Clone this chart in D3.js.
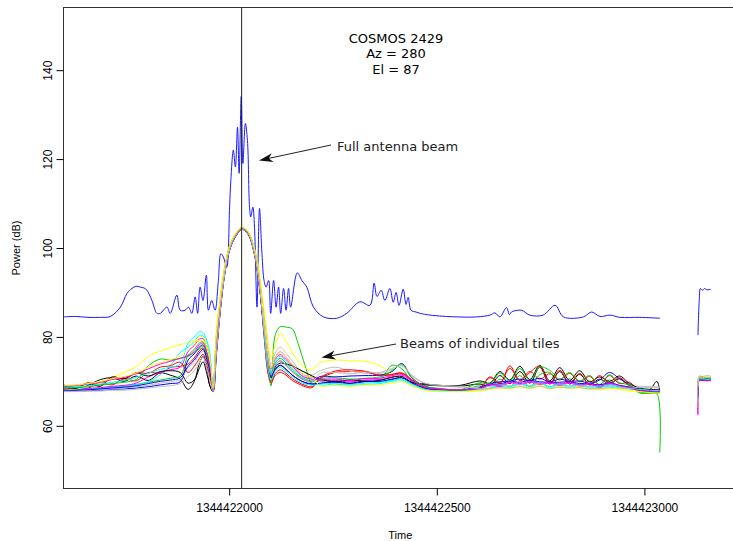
<!DOCTYPE html>
<html>
<head>
<meta charset="utf-8">
<script src="https://cdn.jsdelivr.net/npm/d3@7"></script>
<style>
  body { margin: 0; background: #fff; }
  svg { display: block; }
</style>
</head>
<body>
<div id="chart"></div>
<script>
// time is stored as seconds after t0
const t0 = 1344422000;
const xTicks = [1344422000, 1344422500, 1344423000];
const yTicks = [60, 80, 100, 120, 140];
const titleLines = ["COSMOS 2429", "Az = 280", "El = 87"];

// full antenna beam (blue)
const beamTime = [-398, -370, -340, -310, -286, -262, -246, -234, -224, -214, -205, -198, -186, -174, -166, -150, -142, -126, -118, -106,
  -98, -90, -82, -76, -70, -63, -55, -50, -42, -34, -26, -20, -14, -6, 1, 4, 10, 15, 20, 24,
  29, 33, 39, 44, 49, 52, 57, 61, 67, 73, 79, 84, 89, 95, 100, 107, 113, 119, 124, 131,
  137, 143, 148, 164, 175, 187, 203, 227, 259, 283, 315, 339, 349, 356, 366, 375, 387, 395, 402, 409,
  419, 426, 431, 438, 450, 460, 484, 548, 596, 628, 640, 652, 668, 675, 680, 704, 724, 756, 785, 805,
  853, 873, 893, 917, 941, 989, 1037];
const beamPower = [84.5, 84.6, 84.4, 84.4, 84.6, 86.7, 89.8, 90.9, 91.4, 91.2, 91.0, 90.5, 88.2, 85.3, 85.3, 86.7, 85.3, 89.4, 86.0, 86.0,
  86.7, 85.3, 89.0, 85.3, 91.2, 88.2, 93.9, 86.0, 88.2, 86.0, 92.7, 98.7, 98.0, 95.7, 109.2, 115.2, 122.0, 118.2, 127.2, 116.8,
  134.1, 119.0, 128.0, 124.2, 109.2, 107.0, 109.2, 104.7, 86.7, 108.9, 98.7, 92.7, 91.2, 92.7, 85.3, 92.7, 86.7, 91.2, 85.3, 90.9,
  86.0, 90.9, 86.7, 94.4, 92.7, 91.2, 86.7, 84.5, 84.2, 85.3, 87.9, 87.1, 92.1, 89.1, 90.5, 88.2, 90.9, 87.8, 90.0, 87.1,
  90.7, 87.3, 88.9, 86.0, 85.6, 85.3, 84.9, 84.5, 84.5, 84.9, 85.4, 84.5, 86.6, 85.0, 85.6, 86.0, 84.9, 84.9, 87.1, 84.5,
  84.5, 85.6, 84.6, 84.9, 84.4, 84.4, 84.2];
const beamTimeEnd = [1129, 1132, 1135, 1140, 1145, 1150, 1160];
const beamPowerEnd = [80.4, 88.0, 90.9, 90.5, 90.9, 90.6, 90.7];

// beams of individual tiles
const tileTime = [-398, -370, -340, -310, -282, -253, -224, -195, -166, -142,
  -118, -99, -84, -72, -63, -53, -46, -39, -31, -22,
  -10, 2, 17, 31, 46, 60, 72, 84, 94, 101,
  111, 123, 137, 152, 166, 183, 200, 219, 255, 291,
  327, 363, 392, 416, 440, 472, 508, 556, 604, 628,
  652, 676, 700, 724, 748, 772, 796, 820, 844, 868,
  892, 916, 940, 964, 988, 1012, 1030, 1037];
const tilePower = [
  [68.7, 68.2, 69.1, 70.4, 70.8, 70.0, 71.2, 70.2, 71.9, 71.4, 70.5, 68.2, 70.0, 74.0, 75.6, 72.5, 68.8, 67.8, 76.4, 85.7,
   94.8, 99.9, 102.9, 104.3, 103.1, 99.1, 92.2, 81.4, 73.0, 70.8, 72.7, 73.6, 72.7, 71.4, 70.5, 69.7, 69.4, 69.5, 70.0, 69.6,
   70.1, 69.9, 70.5, 70.8, 69.6, 69.2, 69.0, 68.9, 69.4, 69.0, 71.3, 69.5, 72.2, 69.6, 73.2, 69.4, 72.2, 69.4, 71.6, 69.2,
   70.5, 69.4, 70.6, 69.0, 68.3, 68.1, 70.0, 67.8],
  [68.3, 69.0, 68.5, 69.8, 69.2, 70.6, 70.1, 72.0, 71.8, 73.1, 73.4, 73.9, 75.3, 76.9, 77.5, 75.0, 72.3, 68.0, 78.0, 86.8,
   95.3, 100.3, 103.1, 104.4, 103.3, 99.5, 93.0, 80.6, 72.0, 70.0, 71.8, 72.6, 71.8, 70.6, 69.8, 69.1, 68.8, 70.6, 72.0, 72.2,
   72.3, 71.4, 71.6, 71.9, 70.4, 68.6, 68.2, 68.0, 68.6, 71.0, 69.7, 72.9, 70.3, 72.2, 70.5, 71.7, 70.3, 71.8, 69.9, 71.1,
   69.2, 71.3, 69.5, 69.8, 67.9, 67.8, 67.7, 67.7],
  [68.1, 68.1, 68.3, 68.4, 68.7, 68.9, 69.3, 69.8, 70.3, 70.7, 71.2, 75.8, 77.2, 78.6, 78.9, 76.6, 73.8, 69.0, 80.4, 88.4,
   96.0, 100.7, 103.4, 104.6, 103.6, 100.1, 94.2, 83.0, 74.0, 69.0, 80.5, 82.3, 82.2, 81.8, 78.5, 73.5, 69.5, 70.2, 70.0, 70.3,
   70.1, 70.4, 73.6, 72.8, 70.0, 68.4, 68.0, 67.8, 69.0, 68.3, 70.5, 68.7, 71.3, 68.7, 71.5, 72.0, 68.8, 70.6, 68.7, 70.1,
   68.3, 70.3, 68.4, 68.9, 67.4, 67.3, 67.2, 54.0],
  [67.8, 67.8, 67.9, 68.0, 68.2, 68.3, 68.5, 68.8, 69.2, 69.5, 69.9, 74.8, 76.2, 77.7, 78.2, 75.8, 73.0, 67.9, 77.2, 86.2,
   95.0, 100.1, 103.0, 104.3, 103.2, 99.3, 92.6, 82.2, 74.0, 71.5, 73.6, 74.6, 73.6, 72.2, 71.1, 70.2, 69.9, 71.1, 71.0, 71.2,
   71.3, 71.4, 72.2, 74.0, 70.8, 68.9, 68.3, 68.1, 68.7, 69.5, 69.9, 70.1, 70.5, 70.2, 70.7, 69.9, 70.5, 70.0, 70.1, 69.6,
   70.3, 72.0, 70.6, 69.2, 67.8, 67.6, 67.5, 67.5],
  [68.0, 68.2, 68.2, 68.5, 68.6, 69.0, 69.2, 69.9, 71.5, 73.5, 76.5, 77.7, 79.0, 80.3, 80.3, 78.2, 75.2, 68.3, 78.8, 87.3,
   95.5, 100.4, 103.2, 104.5, 103.4, 99.7, 93.4, 83.0, 75.0, 72.3, 74.5, 75.7, 74.5, 73.0, 71.8, 70.8, 70.4, 69.2, 69.4, 69.1,
   69.3, 69.5, 70.0, 70.3, 69.2, 68.1, 67.8, 67.7, 68.1, 68.2, 69.0, 68.5, 69.4, 68.6, 69.6, 68.5, 69.3, 68.6, 69.1, 68.4,
   68.6, 68.9, 68.7, 68.2, 68.1, 67.9, 67.8, 67.8],
  [68.2, 68.3, 68.4, 68.6, 68.9, 69.1, 69.6, 71.0, 72.0, 72.6, 73.2, 76.7, 78.1, 79.5, 79.6, 77.4, 74.5, 68.2, 79.6, 87.9,
   95.8, 100.6, 103.3, 104.6, 103.5, 99.9, 93.8, 83.8, 76.0, 73.0, 75.4, 76.7, 75.4, 73.8, 72.4, 71.3, 70.9, 70.1, 70.2, 69.9,
   70.3, 70.4, 71.0, 71.4, 70.0, 68.6, 68.2, 68.0, 68.3, 69.1, 68.8, 69.7, 69.2, 69.8, 69.3, 69.6, 69.1, 69.6, 68.9, 69.3,
   68.7, 69.4, 68.9, 68.5, 67.9, 67.8, 67.7, 67.7],
  [68.0, 68.3, 68.8, 69.6, 70.8, 72.0, 73.3, 75.6, 76.8, 77.6, 78.3, 78.6, 79.2, 79.0, 79.3, 77.0, 74.1, 68.4, 81.2, 89.0,
   96.3, 100.9, 103.5, 104.7, 103.7, 100.3, 94.6, 86.2, 79.0, 75.3, 78.1, 80.8, 79.0, 76.5, 74.5, 73.0, 72.6, 74.2, 74.8, 74.6,
   74.5, 73.5, 71.5, 71.0, 69.5, 68.3, 67.9, 67.7, 67.9, 68.2, 68.5, 68.3, 68.8, 68.4, 68.9, 68.3, 68.7, 68.4, 68.6, 68.2,
   68.1, 68.4, 68.2, 67.9, 67.8, 67.6, 67.5, 67.5],
  [67.9, 67.9, 68.0, 68.1, 68.3, 68.5, 68.8, 69.1, 69.6, 69.9, 70.4, 73.0, 74.3, 76.0, 76.8, 74.2, 71.5, 67.8, 77.6, 86.5,
   95.1, 100.2, 103.1, 104.4, 103.3, 99.4, 92.8, 84.6, 77.0, 73.8, 76.3, 77.7, 76.3, 74.6, 73.0, 71.9, 71.5, 72.4, 73.2, 72.3,
   71.8, 71.8, 72.7, 73.6, 71.2, 69.5, 69.0, 68.7, 68.6, 68.9, 69.1, 69.0, 69.4, 69.0, 69.5, 68.9, 69.3, 69.0, 69.1, 68.8,
   68.9, 69.1, 69.0, 68.9, 68.9, 68.8, 68.8, 68.8],
  [69.0, 68.4, 69.5, 68.9, 71.0, 70.6, 71.9, 71.2, 72.2, 72.4, 72.0, 69.6, 70.3, 72.9, 74.4, 71.4, 68.9, 67.7, 75.6, 85.1,
   94.5, 99.8, 102.8, 104.2, 103.0, 98.9, 91.8, 81.8, 73.5, 71.1, 73.2, 74.1, 73.9, 73.5, 72.8, 72.0, 71.2, 70.5, 69.9, 70.3,
   70.0, 70.2, 70.9, 71.1, 69.8, 69.4, 69.1, 69.1, 70.1, 69.6, 72.2, 70.3, 73.4, 70.4, 73.6, 70.1, 73.1, 70.2, 72.4, 69.9,
   71.0, 70.0, 71.2, 69.5, 68.5, 68.2, 68.2, 68.2],
  [69.2, 68.6, 69.7, 69.2, 70.7, 70.2, 72.0, 71.8, 73.2, 73.5, 74.3, 72.0, 73.4, 75.1, 76.1, 73.4, 70.8, 67.7, 76.8, 85.9,
   94.9, 100.0, 103.0, 104.3, 103.2, 99.2, 92.4, 80.2, 71.5, 69.6, 71.4, 72.0, 71.4, 70.2, 69.5, 68.8, 68.6, 70.8, 72.3, 72.6,
   72.2, 71.3, 71.5, 71.8, 70.3, 68.5, 68.1, 67.9, 68.5, 70.8, 69.5, 73.5, 70.1, 72.0, 73.4, 69.5, 72.5, 69.6, 71.8, 69.3,
   71.3, 69.6, 70.8, 69.1, 67.9, 67.7, 67.6, 67.6],
  [68.5, 68.6, 68.8, 69.1, 69.5, 69.8, 70.4, 73.5, 75.0, 74.8, 75.2, 75.6, 76.5, 77.3, 77.9, 75.4, 72.6, 68.0, 78.4, 87.0,
   95.4, 100.3, 103.2, 104.4, 103.4, 99.6, 93.2, 82.6, 74.5, 71.9, 74.1, 75.2, 74.1, 72.6, 71.4, 70.5, 70.1, 70.6, 70.8, 70.5,
   70.7, 71.0, 72.4, 73.9, 70.8, 68.9, 68.4, 68.1, 69.7, 69.5, 71.9, 70.1, 72.9, 70.2, 73.2, 72.5, 70.5, 72.0, 70.1, 71.3,
   69.3, 71.5, 69.7, 69.2, 67.6, 67.5, 67.4, 67.4],
  [68.0, 68.0, 68.1, 68.3, 68.5, 68.7, 69.0, 69.5, 70.0, 70.3, 70.8, 73.4, 74.8, 76.4, 77.2, 74.6, 71.9, 67.8, 76.4, 85.7,
   94.8, 99.9, 102.9, 104.2, 103.1, 99.1, 92.2, 81.4, 73.0, 70.8, 72.7, 73.6, 72.7, 71.4, 70.5, 69.7, 69.4, 69.6, 69.8, 69.5,
   69.9, 70.0, 70.4, 70.8, 69.6, 68.4, 68.0, 67.9, 68.5, 69.3, 69.4, 70.0, 69.8, 70.2, 69.9, 69.8, 69.8, 69.9, 69.5, 69.5,
   69.2, 69.7, 69.1, 68.7, 68.0, 67.8, 67.8, 67.8],
  [68.7, 68.8, 69.0, 69.4, 69.8, 70.2, 70.9, 71.8, 72.7, 73.2, 73.9, 78.6, 80.0, 81.2, 81.0, 79.0, 76.0, 68.5, 79.2, 87.6,
   95.6, 100.5, 103.3, 104.5, 103.5, 99.8, 93.6, 81.0, 72.5, 70.4, 72.3, 73.1, 72.3, 71.0, 70.1, 69.4, 69.1, 69.4, 69.5, 69.3,
   69.6, 69.8, 70.2, 70.5, 69.4, 68.2, 67.9, 67.8, 68.2, 68.5, 69.2, 68.8, 69.6, 68.9, 69.8, 68.8, 69.5, 68.9, 69.3, 68.7,
   68.8, 69.2, 68.9, 68.4, 68.2, 68.0, 67.9, 67.9],
  [69.0, 69.1, 69.4, 69.8, 70.4, 70.9, 71.7, 72.8, 73.9, 74.5, 75.2, 75.8, 76.7, 78.2, 78.6, 76.2, 73.4, 68.2, 78.8, 87.3,
   95.5, 100.4, 103.2, 104.5, 103.4, 99.7, 93.4, 83.4, 75.6, 72.8, 75.0, 76.0, 74.9, 73.5, 72.0, 70.9, 70.5, 70.4, 70.5, 70.2,
   70.6, 70.7, 71.3, 71.6, 70.2, 68.7, 68.3, 68.1, 68.4, 69.3, 69.1, 69.9, 69.5, 70.0, 69.6, 69.7, 69.4, 69.8, 69.2, 69.5,
   68.9, 69.6, 69.0, 68.6, 67.9, 67.8, 67.7, 67.7],
  [69.1, 69.2, 69.5, 70.0, 70.6, 71.1, 71.9, 73.2, 74.2, 74.9, 75.6, 77.2, 78.6, 79.9, 80.0, 77.8, 74.9, 68.4, 80.0, 88.1,
   95.9, 100.6, 103.4, 104.6, 103.6, 100.0, 94.0, 83.8, 76.0, 73.0, 75.4, 76.7, 75.4, 73.8, 72.4, 71.3, 70.9, 69.0, 69.1, 68.9,
   69.2, 69.2, 69.7, 69.9, 69.0, 68.0, 67.8, 67.7, 68.0, 68.3, 68.6, 68.5, 68.9, 68.6, 69.1, 68.4, 68.9, 68.5, 68.8, 68.3,
   68.3, 68.5, 68.4, 68.0, 67.7, 67.5, 67.4, 67.4],
  [67.7, 67.7, 67.8, 67.8, 68.0, 68.0, 68.2, 68.5, 68.8, 69.0, 69.5, 71.1, 72.4, 74.2, 75.4, 72.6, 70.0, 67.7, 76.0, 85.4,
   94.6, 99.9, 102.9, 104.2, 103.1, 99.0, 92.0, 82.2, 74.0, 71.5, 73.6, 74.6, 73.6, 72.2, 71.1, 70.2, 69.9, 71.8, 72.0, 71.7,
   72.1, 72.0, 72.9, 73.4, 71.4, 69.6, 69.1, 68.9, 68.3, 68.4, 68.6, 68.5, 68.8, 68.5, 68.9, 68.4, 68.7, 68.5, 68.6, 68.3,
   68.4, 68.6, 68.5, 68.4, 68.7, 68.6, 68.6, 68.6]
];
const tileTimeEnd = [1129, 1132, 1140, 1150, 1160];
const tilePowerEnd = [
  [67.0, 70.5, 70.6, 70.4, 70.5], [64.5, 70.3, 70.4, 70.2, 70.3], [70.0, 70.9, 71.0, 70.8, 70.9], [66.0, 70.4, 70.3, 70.5, 70.4],
  [68.0, 70.7, 70.6, 70.8, 70.7], [62.6, 70.2, 70.3, 70.1, 70.2], [69.5, 71.0, 71.1, 70.9, 71.0], [65.0, 71.2, 71.1, 71.3, 71.2],
  [68.5, 70.8, 70.9, 70.7, 70.8], [63.8, 70.4, 70.5, 70.3, 70.4], [67.5, 70.6, 70.5, 70.7, 70.6], [66.5, 70.3, 70.2, 70.4, 70.3],
  [69.0, 70.5, 70.6, 70.4, 70.5], [62.4, 70.2, 70.3, 70.2, 70.2], [68.8, 70.9, 70.8, 71.0, 70.9], [64.0, 71.0, 71.1, 70.9, 71.0]
];
// R default palette, cycled over the tiles
const tileColors = ["#000000", "#FF0000", "#00CD00", "#0000FF", "#00FFFF", "#FF00FF", "#FFFF00", "#BEBEBE"];
const markTime = 30;

const width = 733, height = 541;
const plot = { left: 63.5, top: 7.5, right: 737, bottom: 488.5 };

const x = d3.scaleLinear()
    .domain([1344421601, 1344423223])
    .range([plot.left, plot.right]);
const y = d3.scaleLinear()
    .domain([45.9, 154.1])
    .range([plot.bottom, plot.top]);

// smooth lobes without overshooting the sharp drops
const line = d3.line()
    .curve(d3.curveCatmullRom.alpha(0.5))
    .x(d => x(t0 + d[0]))
    .y(d => y(d[1]));

const svg = d3.select("#chart").append("svg")
    .attr("width", width)
    .attr("height", height)
    .attr("viewBox", [0, 0, width, height]);

svg.append("defs").append("clipPath").attr("id", "clip")
  .append("rect")
    .attr("x", plot.left).attr("y", plot.top)
    .attr("width", plot.right - plot.left).attr("height", plot.bottom - plot.top);

const lines = svg.append("g")
    .attr("clip-path", "url(#clip)")
    .attr("fill", "none")
    .attr("stroke-linejoin", "round");

// full beam first, tiles drawn over it
lines.append("path")
    .attr("stroke", "#1a1aff")
    .attr("stroke-width", 1)
    .attr("d", line(beamTime.map((t, i) => [t, beamPower[i]])));
lines.append("path")
    .attr("stroke", "#1a1aff")
    .attr("stroke-width", 1)
    .attr("d", line(beamTimeEnd.map((t, i) => [t, beamPowerEnd[i]])));

lines.selectAll(".tile")
  .data(tilePower)
  .join("path")
    .attr("class", "tile")
    .attr("stroke", (d, i) => tileColors[i % tileColors.length])
    .attr("stroke-width", 1)
    .attr("d", d => line(d.map((v, j) => [tileTime[j], v])));

lines.selectAll(".tileEnd")
  .data(tilePowerEnd)
  .join("path")
    .attr("class", "tileEnd")
    .attr("stroke", (d, i) => tileColors[i % tileColors.length])
    .attr("stroke-width", 1)
    .attr("d", d => line(d.map((v, j) => [tileTimeEnd[j], v])));

// vertical marker
svg.append("line")
    .attr("x1", x(t0 + markTime)).attr("x2", x(t0 + markTime))
    .attr("y1", plot.top).attr("y2", plot.bottom)
    .attr("stroke", "#222")
    .attr("stroke-width", 1);

// frame
svg.append("rect")
    .attr("x", plot.left).attr("y", plot.top)
    .attr("width", plot.right - plot.left).attr("height", plot.bottom - plot.top)
    .attr("fill", "none")
    .attr("stroke", "#333");

// axes
svg.append("g")
    .attr("transform", `translate(0,${plot.bottom})`)
    .call(d3.axisBottom(x).tickValues(xTicks).tickFormat(d3.format("d")).tickSize(7).tickPadding(8))
    .call(g => g.select(".domain").remove())
    .call(g => g.selectAll("text")
        .attr("font-family", "'Liberation Sans', Arial, sans-serif")
        .attr("font-size", 12)
        .attr("fill", "#000"));

svg.append("g")
    .attr("transform", `translate(${plot.left},0)`)
    .call(d3.axisLeft(y).tickValues(yTicks).tickSize(7))
    .call(g => g.select(".domain").remove())
    .call(g => g.selectAll("text")
        .attr("x", null)
        .attr("dy", null)
        .attr("transform", "translate(-12,0) rotate(-90)")
        .attr("text-anchor", "middle")
        .attr("font-family", "'Liberation Sans', Arial, sans-serif")
        .attr("font-size", 12)
        .attr("fill", "#000"));

svg.append("text")
    .attr("x", (plot.left + plot.right) / 2)
    .attr("y", 539)
    .attr("text-anchor", "middle")
    .attr("font-family", "'Liberation Sans', Arial, sans-serif")
    .attr("font-size", 11)
    .text("Time");

svg.append("text")
    .attr("transform", `translate(20,${(plot.top + plot.bottom) / 2}) rotate(-90)`)
    .attr("text-anchor", "middle")
    .attr("font-family", "'Liberation Sans', Arial, sans-serif")
    .attr("font-size", 11)
    .text("Power (dB)");

// title block
svg.append("g")
    .attr("font-family", "'DejaVu Sans', sans-serif")
    .attr("font-size", 13)
    .attr("text-anchor", "middle")
  .selectAll("text")
  .data(titleLines)
  .join("text")
    .attr("x", 396)
    .attr("y", (d, i) => 42.5 + i * 15.7)
    .text(d => d);

// annotations with arrows
const notes = [
  { text: "Full antenna beam", tx: 337, ty: 151, x1: 331, y1: 145, x2: 259, y2: 160.5 },
  { text: "Beams of individual tiles", tx: 400, ty: 348, x1: 396, y1: 344, x2: 321.5, y2: 357.5 }
];

function arrowHead(n) {
  const a = Math.atan2(n.y2 - n.y1, n.x2 - n.x1);
  const ux = Math.cos(a), uy = Math.sin(a);
  const L = 14, w = 4.5, notch = 10;
  const bx = n.x2 - L * ux, by = n.y2 - L * uy;
  return `M${n.x2},${n.y2}L${bx - w * uy},${by + w * ux}L${n.x2 - notch * ux},${n.y2 - notch * uy}L${bx + w * uy},${by - w * ux}Z`;
}

const note = svg.append("g").selectAll("g").data(notes).join("g");
note.append("line")
    .attr("x1", d => d.x1).attr("y1", d => d.y1)
    .attr("x2", d => d.x2 - 9 * Math.cos(Math.atan2(d.y2 - d.y1, d.x2 - d.x1)))
    .attr("y2", d => d.y2 - 9 * Math.sin(Math.atan2(d.y2 - d.y1, d.x2 - d.x1)))
    .attr("stroke", "#222")
    .attr("stroke-width", 1);
note.append("path")
    .attr("d", arrowHead)
    .attr("fill", "#111");
note.append("text")
    .attr("x", d => d.tx).attr("y", d => d.ty)
    .attr("font-family", "'DejaVu Sans', sans-serif")
    .attr("font-size", 13)
    .attr("fill", "#222")
    .text(d => d.text);
</script>
</body>
</html>
